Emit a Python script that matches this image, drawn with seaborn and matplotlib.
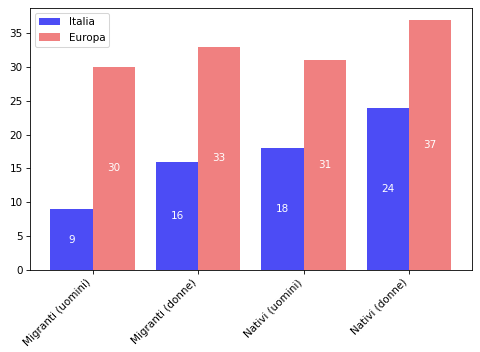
import matplotlib
matplotlib.use("Agg")
import matplotlib.pyplot as plt
import seaborn as sns
import pandas as pd

categories = ["Migranti (uomini)", "Migranti (donne)", "Nativi (uomini)", "Nativi (donne)"]
italia = [9, 16, 18, 24]
europa = [30, 33, 31, 37]
series_names = ["Italia", "Europa"]

df = pd.DataFrame({
    "cat": categories * 2,
    "val": italia + europa,
    "serie": [series_names[0]] * 4 + [series_names[1]] * 4,
})

fig, ax = plt.subplots(figsize=(6.4, 352 / 75), dpi=75)
sns.barplot(data=df, x="cat", y="val", hue="serie", palette=["#4c4cf5", "#f08080"],
            saturation=1, ax=ax, width=0.8, errorbar=None)
for cont in ax.containers:
    for bar in cont:
        h = bar.get_height()
        ax.text(bar.get_x() + bar.get_width() / 2, h / 2, f"{int(round(h))}",
                ha="center", va="center", color="white", fontsize=10)
ax.set_xlim(-0.594, 3.594)
ax.set_ylim(0, 38.7)
ax.set_yticks(range(0, 40, 5))
ax.set_xlabel("")
ax.set_ylabel("")
ax.legend(loc="upper left", title=None)
plt.setp(ax.get_xticklabels(), rotation=45, ha="right")
fig.subplots_adjust(left=0.0625, right=0.983, top=0.977, bottom=0.233)
fig.savefig("out.png", dpi=75)
